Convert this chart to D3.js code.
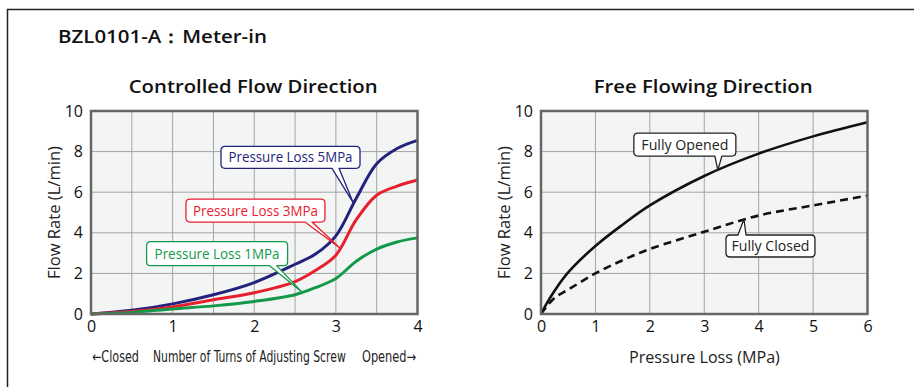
<!DOCTYPE html>
<html><head><meta charset="utf-8">
<script src="https://cdn.jsdelivr.net/npm/d3@7"></script>
<style>
html,body{margin:0;padding:0;background:#fff;}
svg{display:block;font-family:"Open Sans","Noto Sans",sans-serif;}
</style></head>
<body><svg id="c" width="914" height="387"></svg>
<script>
// ---------- data ----------
const turns = [0, 0.5, 1, 1.5, 2, 2.5, 2.75, 3, 3.25, 3.5, 3.75, 4];
const flow5MPa = [0, 0.18, 0.5, 0.95, 1.55, 2.45, 2.95, 3.85, 5.7, 7.4, 8.15, 8.55];
const flow3MPa = [0, 0.12, 0.35, 0.7, 1.05, 1.6, 2.15, 2.9, 4.65, 5.85, 6.3, 6.6];
const flow1MPa = [0, 0.08, 0.25, 0.4, 0.62, 0.95, 1.3, 1.75, 2.6, 3.2, 3.55, 3.75];
const leftSeriesNames = ["Pressure Loss 5MPa", "Pressure Loss 3MPa", "Pressure Loss 1MPa"];

const pressure = [0, 0.1, 0.25, 0.5, 1, 1.5, 2, 3, 4, 5, 6];
const flowOpened = [0, 0.5, 1.15, 2.05, 3.35, 4.4, 5.35, 6.8, 7.9, 8.75, 9.45];
const flowClosed = [0, 0.35, 0.8, 1.2, 2.0, 2.65, 3.2, 4.05, 4.85, 5.35, 5.83];
const rightSeriesNames = ["Fully Opened", "Fully Closed"];

const leftXTicks = [0, 1, 2, 3, 4];
const rightXTicks = [0, 1, 2, 3, 4, 5, 6];
const yTicks = [0, 2, 4, 6, 8, 10];

const mainTitle = "BZL0101-A：Meter-in";
const leftTitle = "Controlled Flow Direction";
const rightTitle = "Free Flowing Direction";
const yLabel = "Flow Rate (L/min)";
const rightXLabel = "Pressure Loss (MPa)";
const leftXLabelParts = ["←Closed", "Number of Turns of Adjusting Screw", "Opened→"];

// callout anchor points (data coords)
const leftCalloutAnchors = [[3.21, 5.5], [3.05, 3.25], [2.58, 1.1]];
const rightCalloutAnchors = [[3.25, 7.09], [3.73, 4.68]];

// ---------- layout ----------
const svg = d3.select("#c");
const colors = ["#23237e", "#e8202e", "#14994a"];
const plotTop = 111, plotBottom = 314;

// fit a text horizontally into a given width using a scale transform
function fitText(sel, x, y, width, anchor) {
  const w = sel.node().getComputedTextLength();
  const k = width / w;
  const x0 = anchor === "middle" ? x - width / 2 : x;
  sel.attr("x", 0).attr("y", 0).attr("text-anchor", "start")
    .attr("transform", `translate(${x0},${y}) scale(${k},1)`);
}

// outer frame
svg.append("path").attr("d", "M7.5,387 V9.5 H914").attr("fill", "none")
  .attr("stroke", "#222").attr("stroke-width", 1.5);

const tt = svg.append("text").attr("font-size", 18.5).attr("font-weight", 600)
  .attr("fill", "#111").text(mainTitle);
fitText(tt, 58, 43, 209, "start");

function calloutPath(x0, y0, x1, y1, r, side, b1, b2, tx, ty) {
  if (side === "bottom") {
    return `M${x0 + r},${y0} H${x1 - r} Q${x1},${y0} ${x1},${y0 + r} V${y1 - r} Q${x1},${y1} ${x1 - r},${y1} H${b2} L${tx},${ty} L${b1},${y1} H${x0 + r} Q${x0},${y1} ${x0},${y1 - r} V${y0 + r} Q${x0},${y0} ${x0 + r},${y0} Z`;
  }
  return `M${x0 + r},${y0} H${b1} L${tx},${ty} L${b2},${y0} H${x1 - r} Q${x1},${y0} ${x1},${y0 + r} V${y1 - r} Q${x1},${y1} ${x1 - r},${y1} H${x0 + r} Q${x0},${y1} ${x0},${y1 - r} V${y0 + r} Q${x0},${y0} ${x0 + r},${y0} Z`;
}

function panel(opts) {
  const x = d3.scaleLinear().domain(opts.xDomain).range([opts.left, opts.right]);
  const y = d3.scaleLinear().domain([0, 10]).range([plotBottom, plotTop]);
  const g = svg.append("g");

  g.append("rect").attr("x", opts.left).attr("y", plotTop)
    .attr("width", opts.right - opts.left).attr("height", plotBottom - plotTop).attr("fill", "#f3f5f4");

  // grid
  g.append("g").selectAll("line").data(opts.gridX).join("line")
    .attr("x1", d => x(d)).attr("x2", d => x(d)).attr("y1", plotTop).attr("y2", plotBottom)
    .attr("stroke", "#a3a3a3").attr("stroke-width", 1);
  g.append("g").selectAll("line").data(yTicks).join("line")
    .attr("y1", d => y(d)).attr("y2", d => y(d)).attr("x1", opts.left).attr("x2", opts.right)
    .attr("stroke", "#a3a3a3").attr("stroke-width", 1);

  // series
  const line = d3.line().curve(d3.curveCatmullRom.alpha(0.5));
  opts.series.forEach((s, i) => {
    g.append("path").attr("d", line(opts.xs.map((v, k) => [x(v), y(s[k])])))
      .attr("fill", "none").attr("stroke", opts.colors[i]).attr("stroke-width", opts.widths[i])
      .attr("stroke-dasharray", opts.dashes[i]).attr("stroke-linejoin", "round");
  });

  // border
  g.append("rect").attr("x", opts.left).attr("y", plotTop)
    .attr("width", opts.right - opts.left).attr("height", plotBottom - plotTop)
    .attr("fill", "none").attr("stroke", "#666").attr("stroke-width", 2.5);

  // axes
  const xa = g.append("g").attr("transform", `translate(0,${plotBottom})`)
    .call(d3.axisBottom(x).tickValues(opts.xTicks).tickSize(0).tickPadding(7).tickFormat(d3.format("d")));
  xa.select(".domain").remove();
  xa.selectAll("text").attr("font-size", 16).attr("fill", "#111").attr("font-family", "'Open Sans','Noto Sans',sans-serif");
  const ya = g.append("g").attr("transform", `translate(${opts.left},0)`)
    .call(d3.axisLeft(y).tickValues(yTicks).tickSize(0).tickPadding(8).tickFormat(d3.format("d")));
  ya.select(".domain").remove();
  ya.selectAll("text").attr("font-size", 16).attr("fill", "#111").attr("font-family", "'Open Sans','Noto Sans',sans-serif");

  // titles
  const t = g.append("text").attr("font-size", 18).attr("font-weight", 600).attr("fill", "#111").text(opts.title);
  fitText(t, (opts.left + opts.right) / 2 - 1, 93, opts.titleLen, "middle");
  g.append("text").attr("transform", `translate(${opts.yLabelX},${(plotTop + plotBottom) / 2}) rotate(-90)`)
    .attr("text-anchor", "middle").attr("font-size", 15.5).attr("fill", "#222")
    .attr("textLength", 133).attr("lengthAdjust", "spacingAndGlyphs").text(yLabel);

  // callouts
  opts.callouts.forEach((c, i) => {
    const tx = x(opts.anchors[i][0]), ty = y(opts.anchors[i][1]);
    const L = c.box;
    const x0 = tx + L[0], x1 = tx + L[1], y0 = ty + L[2], y1 = ty + L[3];
    g.append("path").attr("d", calloutPath(x0, y0, x1, y1, 4, c.side, tx + L[4], tx + L[5], tx, ty))
      .attr("fill", "#fff").attr("stroke", c.color).attr("stroke-width", 1.3).attr("stroke-linejoin", "round");
    g.append("text").attr("x", (x0 + x1) / 2).attr("y", (y0 + y1) / 2 + 5)
      .attr("text-anchor", "middle").attr("font-size", 14.5).attr("fill", c.textColor)
      .attr("textLength", c.len).attr("lengthAdjust", "spacingAndGlyphs").text(c.name);
  });
  return { x, y, g };
}

const left = panel({
  left: 91, right: 417.5, xDomain: [0, 4], xs: turns,
  series: [flow5MPa, flow3MPa, flow1MPa], colors: colors, widths: [3, 3, 3], dashes: [null, null, null],
  gridX: d3.range(0, 4.01, 0.5), xTicks: leftXTicks, title: leftTitle, titleLen: 249, yLabelX: 60,
  anchors: leftCalloutAnchors,
  callouts: [
    { name: leftSeriesNames[0], color: colors[0], textColor: colors[0], len: 124, side: "bottom", box: [-132, 7, -56, -34, -21, -14] },
    { name: leftSeriesNames[1], color: colors[1], textColor: colors[1], len: 125, side: "bottom", box: [-154, -15, -49, -26, -35, -28] },
    { name: leftSeriesNames[2], color: colors[2], textColor: colors[2], len: 125, side: "bottom", box: [-155, -14, -50, -26, -32, -25] }
  ]
});

const right = panel({
  left: 541, right: 867.5, xDomain: [0, 6], xs: pressure,
  series: [flowOpened, flowClosed], colors: ["#111", "#111"], widths: [2.6, 2.6], dashes: [null, "8,5"],
  gridX: rightXTicks, xTicks: rightXTicks, title: rightTitle, titleLen: 219, yLabelX: 510,
  anchors: rightCalloutAnchors,
  callouts: [
    { name: rightSeriesNames[0], color: "#222", textColor: "#222", len: 87, side: "bottom", box: [-84, 18, -37, -14, -3, 4] },
    { name: rightSeriesNames[1], color: "#222", textColor: "#222", len: 78, side: "top", box: [-18, 71, 16, 38, -6, 2] }
  ]
});

// x-axis labels
const lx = svg.append("g").attr("font-size", 15).attr("fill", "#222")
  .attr("font-family", "'Liberation Sans Narrow','DejaVu Sans Condensed','Open Sans',sans-serif");
[[92, 47], [153, 193], [362, 54]].forEach((p, i) => {
  const t = lx.append("text").text(leftXLabelParts[i]);
  fitText(t, p[0], 362, p[1], "start");
});
const rx = svg.append("text").attr("font-size", 15.5).attr("fill", "#222").text(rightXLabel);
fitText(rx, 704.5, 363, 151, "middle");
</script></body></html>
